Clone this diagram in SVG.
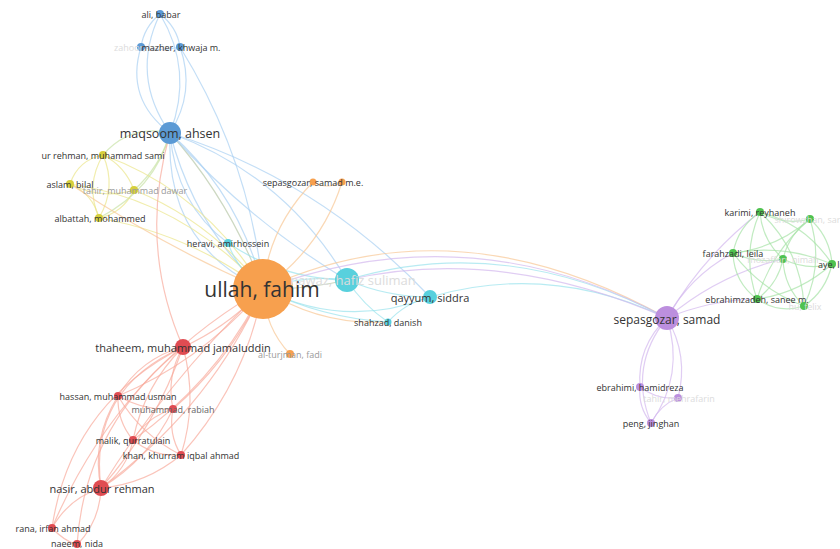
<svg xmlns="http://www.w3.org/2000/svg" width="840" height="549" viewBox="0 0 840 549">
<style>
  .edges path { fill: none; stroke-width: 1.2; stroke-opacity: 0.7; }
  .eb { stroke: #a9d0f2; }
  .ey { stroke: #ebe58a; }
  .eyb { stroke: #c9e3a6; }
  .eo { stroke: #f8c796; }
  .ec { stroke: #9ae3ec; }
  .er { stroke: #f8ab9c; }
  .ep { stroke: #d3b8ee; }
  .eg { stroke: #a6e3a6; }
  .et { stroke: #b8c8a8; }
  .nb { fill: #5b9ad5; }
  .ny { fill: #d6cf3c; }
  .no { fill: #f7a04e; }
  .nc { fill: #58d0dd; }
  .nr { fill: #e04c52; }
  .np { fill: #bc8fde; }
  .ng { fill: #4fc24f; }
  text { font-family: "Open Sans", "Liberation Sans", sans-serif; text-anchor: middle; dominant-baseline: central; fill: #333; }
  .s { font-size: 9px; }
  .fade { fill: #9a9a9a; }
  .faint { fill: #dcdcdc; }
</style>

<!-- connectors -->
<g id="edges" class="edges">
  <!-- blue cluster -->
  <path class="eb" d="M160,14 Q130,76 170,133"/>
  <path class="eb" d="M160,14 Q194,71 170,133"/>
  <path class="eb" d="M141,47 Q125,99 170,133"/>
  <path class="eb" d="M180,47 Q196,92 170,133"/>
  <path class="eb" d="M141,47 Q160,52 180,47"/>
  <path class="eb" d="M160,14 Q144,27 141,47"/>
  <path class="eb" d="M160,14 Q177,27 180,47"/>
  <path class="eb" d="M170,133 Q195,228 263,289"/>
  <path class="eb" d="M170,133 Q240,195 263,289"/>
  <path class="eb" d="M170,133 Q165,245 263,289"/>
  <path class="et" d="M170,133 Q230,200 263,289"/>
  <path class="eb" d="M170,133 Q176,205 228,243"/>
  <path class="eb" d="M170,133 Q285,175 347,280"/>
  <path class="eb" d="M170,133 Q250,222 347,280"/>
  <path class="eb" d="M170,133 Q320,180 430,297"/>
  <path class="eb" d="M180,47 Q250,160 263,289"/>
  <!-- yellow cluster -->
  <path class="ey" d="M103,155 Q78,160 70,184"/>
  <path class="ey" d="M103,155 Q125,166 134,190"/>
  <path class="ey" d="M103,155 Q85,185 99,218"/>
  <path class="ey" d="M103,155 Q117,187 99,218"/>
  <path class="ey" d="M70,184 Q101,200 134,190"/>
  <path class="ey" d="M70,184 Q93,194 99,218"/>
  <path class="ey" d="M134,190 Q123,213 99,218"/>
  <path class="eyb" d="M103,155 Q130,124 170,133"/>
  <path class="eyb" d="M99,218 Q155,189 170,133"/>
  <path class="eyb" d="M134,190 Q160,167 170,133"/>
  <path class="ey" d="M70,184 Q182,200 263,289"/>
  <path class="ey" d="M134,190 Q212,222 263,289"/>
  <path class="ey" d="M99,218 Q189,234 263,289"/>
  <path class="ey" d="M103,155 Q205,192 263,289"/>
  <path class="eo" d="M70,184 Q170,250 263,289"/>
  <!-- orange cluster -->
  <path class="eo" d="M263,289 Q268,228 313,182"/>
  <path class="eo" d="M263,289 Q322,247 342,182"/>
  <path class="eo" d="M313,182 Q327,190 342,182"/>
  <path class="eo" d="M263,289 Q265,328 290,354"/>
  <path class="eo" d="M263,289 Q455,200 667,318"/>
  <path class="eo" d="M263,289 Q320,326 388,322"/>
  <!-- cyan cluster -->
  <path class="ec" d="M347,280 Q304,274 263,289"/>
  <path class="et" d="M347,280 Q305,290 263,289"/>
  <path class="ec" d="M347,280 Q387,297 430,297"/>
  <path class="ec" d="M347,280 Q363,305 388,322"/>
  <path class="ec" d="M430,297 Q405,303 388,322"/>
  <path class="ec" d="M228,243 Q282,279 347,280"/>
  <path class="ec" d="M228,243 Q238,271 263,289"/>
  <path class="ec" d="M430,297 Q345,330 263,289"/>
  <path class="ec" d="M388,322 Q322,318 263,289"/>
  <path class="ec" d="M347,280 Q505,232 667,318"/>
  <path class="ec" d="M430,297 Q550,262 667,318"/>
  <!-- red cluster -->
  <path class="er" d="M183,347 Q229,326 263,289"/>
  <path class="er" d="M118,396 Q203,360 263,289"/>
  <path class="er" d="M173,409 Q232,358 263,289"/>
  <path class="er" d="M133,440 Q218,380 263,289"/>
  <path class="er" d="M181,455 Q246,382 263,289"/>
  <path class="er" d="M101,488 Q210,408 263,289"/>
  <path class="er" d="M101,488 Q168,380 263,289"/>
  <path class="er" d="M183,347 Q141,358 118,396"/>
  <path class="er" d="M183,347 Q166,376 173,409"/>
  <path class="er" d="M183,347 Q144,386 133,440"/>
  <path class="er" d="M183,347 Q198,401 181,455"/>
  <path class="er" d="M183,347 Q88,389 101,488"/>
  <path class="er" d="M183,347 Q156,426 101,488"/>
  <path class="er" d="M118,396 Q144,411 173,409"/>
  <path class="er" d="M118,396 Q117,421 133,440"/>
  <path class="er" d="M118,396 Q141,435 181,455"/>
  <path class="er" d="M118,396 Q91,439 101,488"/>
  <path class="er" d="M173,409 Q147,417 133,440"/>
  <path class="er" d="M173,409 Q168,434 181,455"/>
  <path class="er" d="M133,440 Q154,457 181,455"/>
  <path class="er" d="M101,488 Q127,470 133,440"/>
  <path class="er" d="M101,488 Q146,484 181,455"/>
  <path class="er" d="M101,488 Q149,459 173,409"/>
  <path class="er" d="M101,488 Q69,498 52,528"/>
  <path class="er" d="M101,488 Q100,521 77,545"/>
  <path class="er" d="M52,528 Q63,540 77,545"/>
  <path class="er" d="M52,528 Q70,405 183,347"/>
  <path class="er" d="M52,528 Q118,372 263,289"/>
  <path class="er" d="M77,545 Q85,425 183,347"/>
  <path class="er" d="M183,347 Q138,245 170,133"/>
  <!-- purple cluster -->
  <path class="ep" d="M667,318 Q637,346 640,387"/>
  <path class="ep" d="M667,318 Q689,356 678,398"/>
  <path class="ep" d="M667,318 Q628,366 651,423"/>
  <path class="ep" d="M667,318 Q685,375 651,423"/>
  <path class="ep" d="M640,387 Q638,407 651,423"/>
  <path class="ep" d="M678,398 Q660,405 651,423"/>
  <path class="ep" d="M640,387 Q657,400 678,398"/>
  <path class="ep" d="M667,318 Q690,276 733,253"/>
  <path class="ep" d="M667,318 Q718,275 783,259"/>
  <path class="ep" d="M667,318 Q710,300 757,299"/>
  <path class="ep" d="M667,318 Q703,256 760,212"/>
  <path class="ep" d="M667,318 Q470,212 263,289"/>
  <path class="ep" d="M667,318 Q500,245 347,280"/>
  <!-- green cluster -->
  <path class="eg" d="M760,212 Q784,226 810,219"/>
  <path class="eg" d="M760,212 Q738,227 733,253"/>
  <path class="eg" d="M760,212 Q762,240 783,259"/>
  <path class="eg" d="M760,212 Q806,224 832,264"/>
  <path class="eg" d="M760,212 Q741,255 757,299"/>
  <path class="eg" d="M760,212 Q801,250 804,306"/>
  <path class="eg" d="M810,219 Q777,248 733,253"/>
  <path class="eg" d="M810,219 Q789,234 783,259"/>
  <path class="eg" d="M810,219 Q830,237 832,264"/>
  <path class="eg" d="M810,219 Q772,251 757,299"/>
  <path class="eg" d="M810,219 Q824,264 804,306"/>
  <path class="eg" d="M733,253 Q757,264 783,259"/>
  <path class="eg" d="M733,253 Q784,244 832,264"/>
  <path class="eg" d="M733,253 Q734,282 757,299"/>
  <path class="eg" d="M733,253 Q761,290 804,306"/>
  <path class="eg" d="M783,259 Q807,271 832,264"/>
  <path class="eg" d="M783,259 Q778,284 757,299"/>
  <path class="eg" d="M783,259 Q784,287 804,306"/>
  <path class="eg" d="M832,264 Q800,293 757,299"/>
  <path class="eg" d="M832,264 Q826,291 804,306"/>
  <path class="eg" d="M757,299 Q779,314 804,306"/>
</g>

<!-- blue cluster -->
<g id="ali-babar"><circle class="nb" cx="160" cy="14" r="4"/><text class="s" x="161" y="14">ali, babar</text></g>
<g id="zahoor"><circle class="nb" cx="141" cy="47" r="4"/><text class="s faint" x="141" y="47">zahoor, hafiz</text></g>
<g id="mazher-khwaja-m"><circle class="nb" cx="180" cy="47" r="4"/><text class="s" x="181" y="47">mazher, khwaja m.</text></g>
<g id="maqsoom-ahsen"><circle class="nb" cx="170" cy="133" r="11"/><text x="170" y="133" style="font-size:12.5px">maqsoom, ahsen</text></g>

<!-- yellow cluster -->
<g id="ur-rehman-muhammad-sami"><circle class="ny" cx="103" cy="155" r="4"/><text class="s" x="103" y="155">ur rehman, muhammad sami</text></g>
<g id="aslam-bilal"><circle class="ny" cx="70" cy="184" r="4"/><text class="s" x="70" y="184">aslam, bilal</text></g>
<g id="tahir-muhammad-dawar"><circle class="ny" cx="134" cy="190" r="4"/><text class="s fade" x="135" y="190">tahir, muhammad dawar</text></g>
<g id="albattah-mohammed"><circle class="ny" cx="99" cy="218" r="4"/><text class="s" x="100" y="218">albattah, mohammed</text></g>

<!-- orange cluster -->
<g id="ullah-fahim"><circle class="no" cx="263" cy="289" r="30"/><text x="262" y="289" style="font-size:21px">ullah, fahim</text></g>
<g id="sepasgozar-samad-m-e"><circle class="no" cx="313" cy="182" r="3.5"/><circle class="no" cx="342" cy="182" r="3.5"/><text class="s" x="313" y="182">sepasgozar, samad m.e.</text></g>
<g id="al-turjman-fadi"><circle class="no" cx="290" cy="354" r="4"/><text class="s fade" x="290" y="354">al-turjman, fadi</text></g>

<!-- cyan cluster -->
<g id="heravi-amirhossein"><circle class="nc" cx="228" cy="243" r="4"/><text class="s" x="228" y="243">heravi, amirhossein</text></g>
<g id="nawaz-hafiz-suliman"><circle class="nc" cx="347" cy="280" r="12"/><text class="faint" x="353" y="280" style="font-size:13px">nawaz, hafiz suliman</text></g>
<g id="qayyum-siddra"><circle class="nc" cx="430" cy="297" r="7"/><text x="430" y="297" style="font-size:11px">qayyum, siddra</text></g>
<g id="shahzad-danish"><circle class="nc" cx="388" cy="322" r="3.5"/><text class="s" x="388" y="322">shahzad, danish</text></g>

<!-- red cluster -->
<g id="thaheem-muhammad-jamaluddin"><circle class="nr" cx="183" cy="347" r="8"/><text x="183" y="347" style="font-size:11px">thaheem, muhammad jamaluddin</text></g>
<g id="hassan-muhammad-usman"><circle class="nr" cx="118" cy="396" r="4"/><text class="s" x="118" y="396">hassan, muhammad usman</text></g>
<g id="muhammad-rabiah"><circle class="nr" cx="173" cy="409" r="4"/><text class="s" x="173" y="409" style="fill:#666">muhammad, rabiah</text></g>
<g id="malik-qurratulain"><circle class="nr" cx="133" cy="440" r="4"/><text class="s" x="133" y="440">malik, qurratulain</text></g>
<g id="khan-khurram-iqbal-ahmad"><circle class="nr" cx="181" cy="455" r="4"/><text class="s" x="181" y="455">khan, khurram iqbal ahmad</text></g>
<g id="nasir-abdur-rehman"><circle class="nr" cx="101" cy="488" r="8"/><text x="102" y="488" style="font-size:11px">nasir, abdur rehman</text></g>
<g id="rana-irfan-ahmad"><circle class="nr" cx="52" cy="528" r="4"/><text class="s" x="53" y="528">rana, irfan ahmad</text></g>
<g id="naeem-nida"><circle class="nr" cx="77" cy="544" r="4"/><text class="s" x="77" y="543.5">naeem, nida</text></g>

<!-- purple cluster -->
<g id="sepasgozar-samad"><circle class="np" cx="667" cy="318" r="12"/><text x="667" y="319" style="font-size:12px">sepasgozar, samad</text></g>
<g id="ebrahimi-hamidreza"><circle class="np" cx="640" cy="387" r="4"/><text class="s" x="640" y="387">ebrahimi, hamidreza</text></g>
<g id="tahir-mehrafarin"><circle class="np" cx="678" cy="398" r="4"/><text class="s faint" x="679" y="398">tahir, mehrafarin</text></g>
<g id="peng-jinghan"><circle class="np" cx="651" cy="423" r="4"/><text class="s" x="651" y="423">peng, jinghan</text></g>

<!-- green cluster -->
<g id="karimi-reyhaneh"><circle class="ng" cx="760" cy="212" r="4"/><text class="s" x="760" y="212">karimi, reyhaneh</text></g>
<g id="shirowzhan-sara"><circle class="ng" cx="810" cy="219" r="4"/><text class="s faint" x="810" y="219">shirowzhan, sara</text></g>
<g id="farahzadi-leila"><circle class="ng" cx="733" cy="253" r="4"/><text class="s" x="733" y="253">farahzadi, leila</text></g>
<g id="mozaffari-nimah"><circle class="ng" cx="783" cy="259" r="4"/><text class="s faint" x="783" y="259">mozaffari, nimah</text></g>
<g id="aye-lu"><circle class="ng" cx="832" cy="264" r="4"/><text class="s" x="818" y="264" style="text-anchor:start">aye, lu</text></g>
<g id="ebrahimzadeh-sanee-m"><circle class="ng" cx="757" cy="299" r="4"/><text class="s" x="757" y="299">ebrahimzadeh, sanee m.</text></g>
<g id="hu-felix"><circle class="ng" cx="804" cy="306" r="4"/><text class="s faint" x="805" y="306">hu, felix</text></g>
</svg>
